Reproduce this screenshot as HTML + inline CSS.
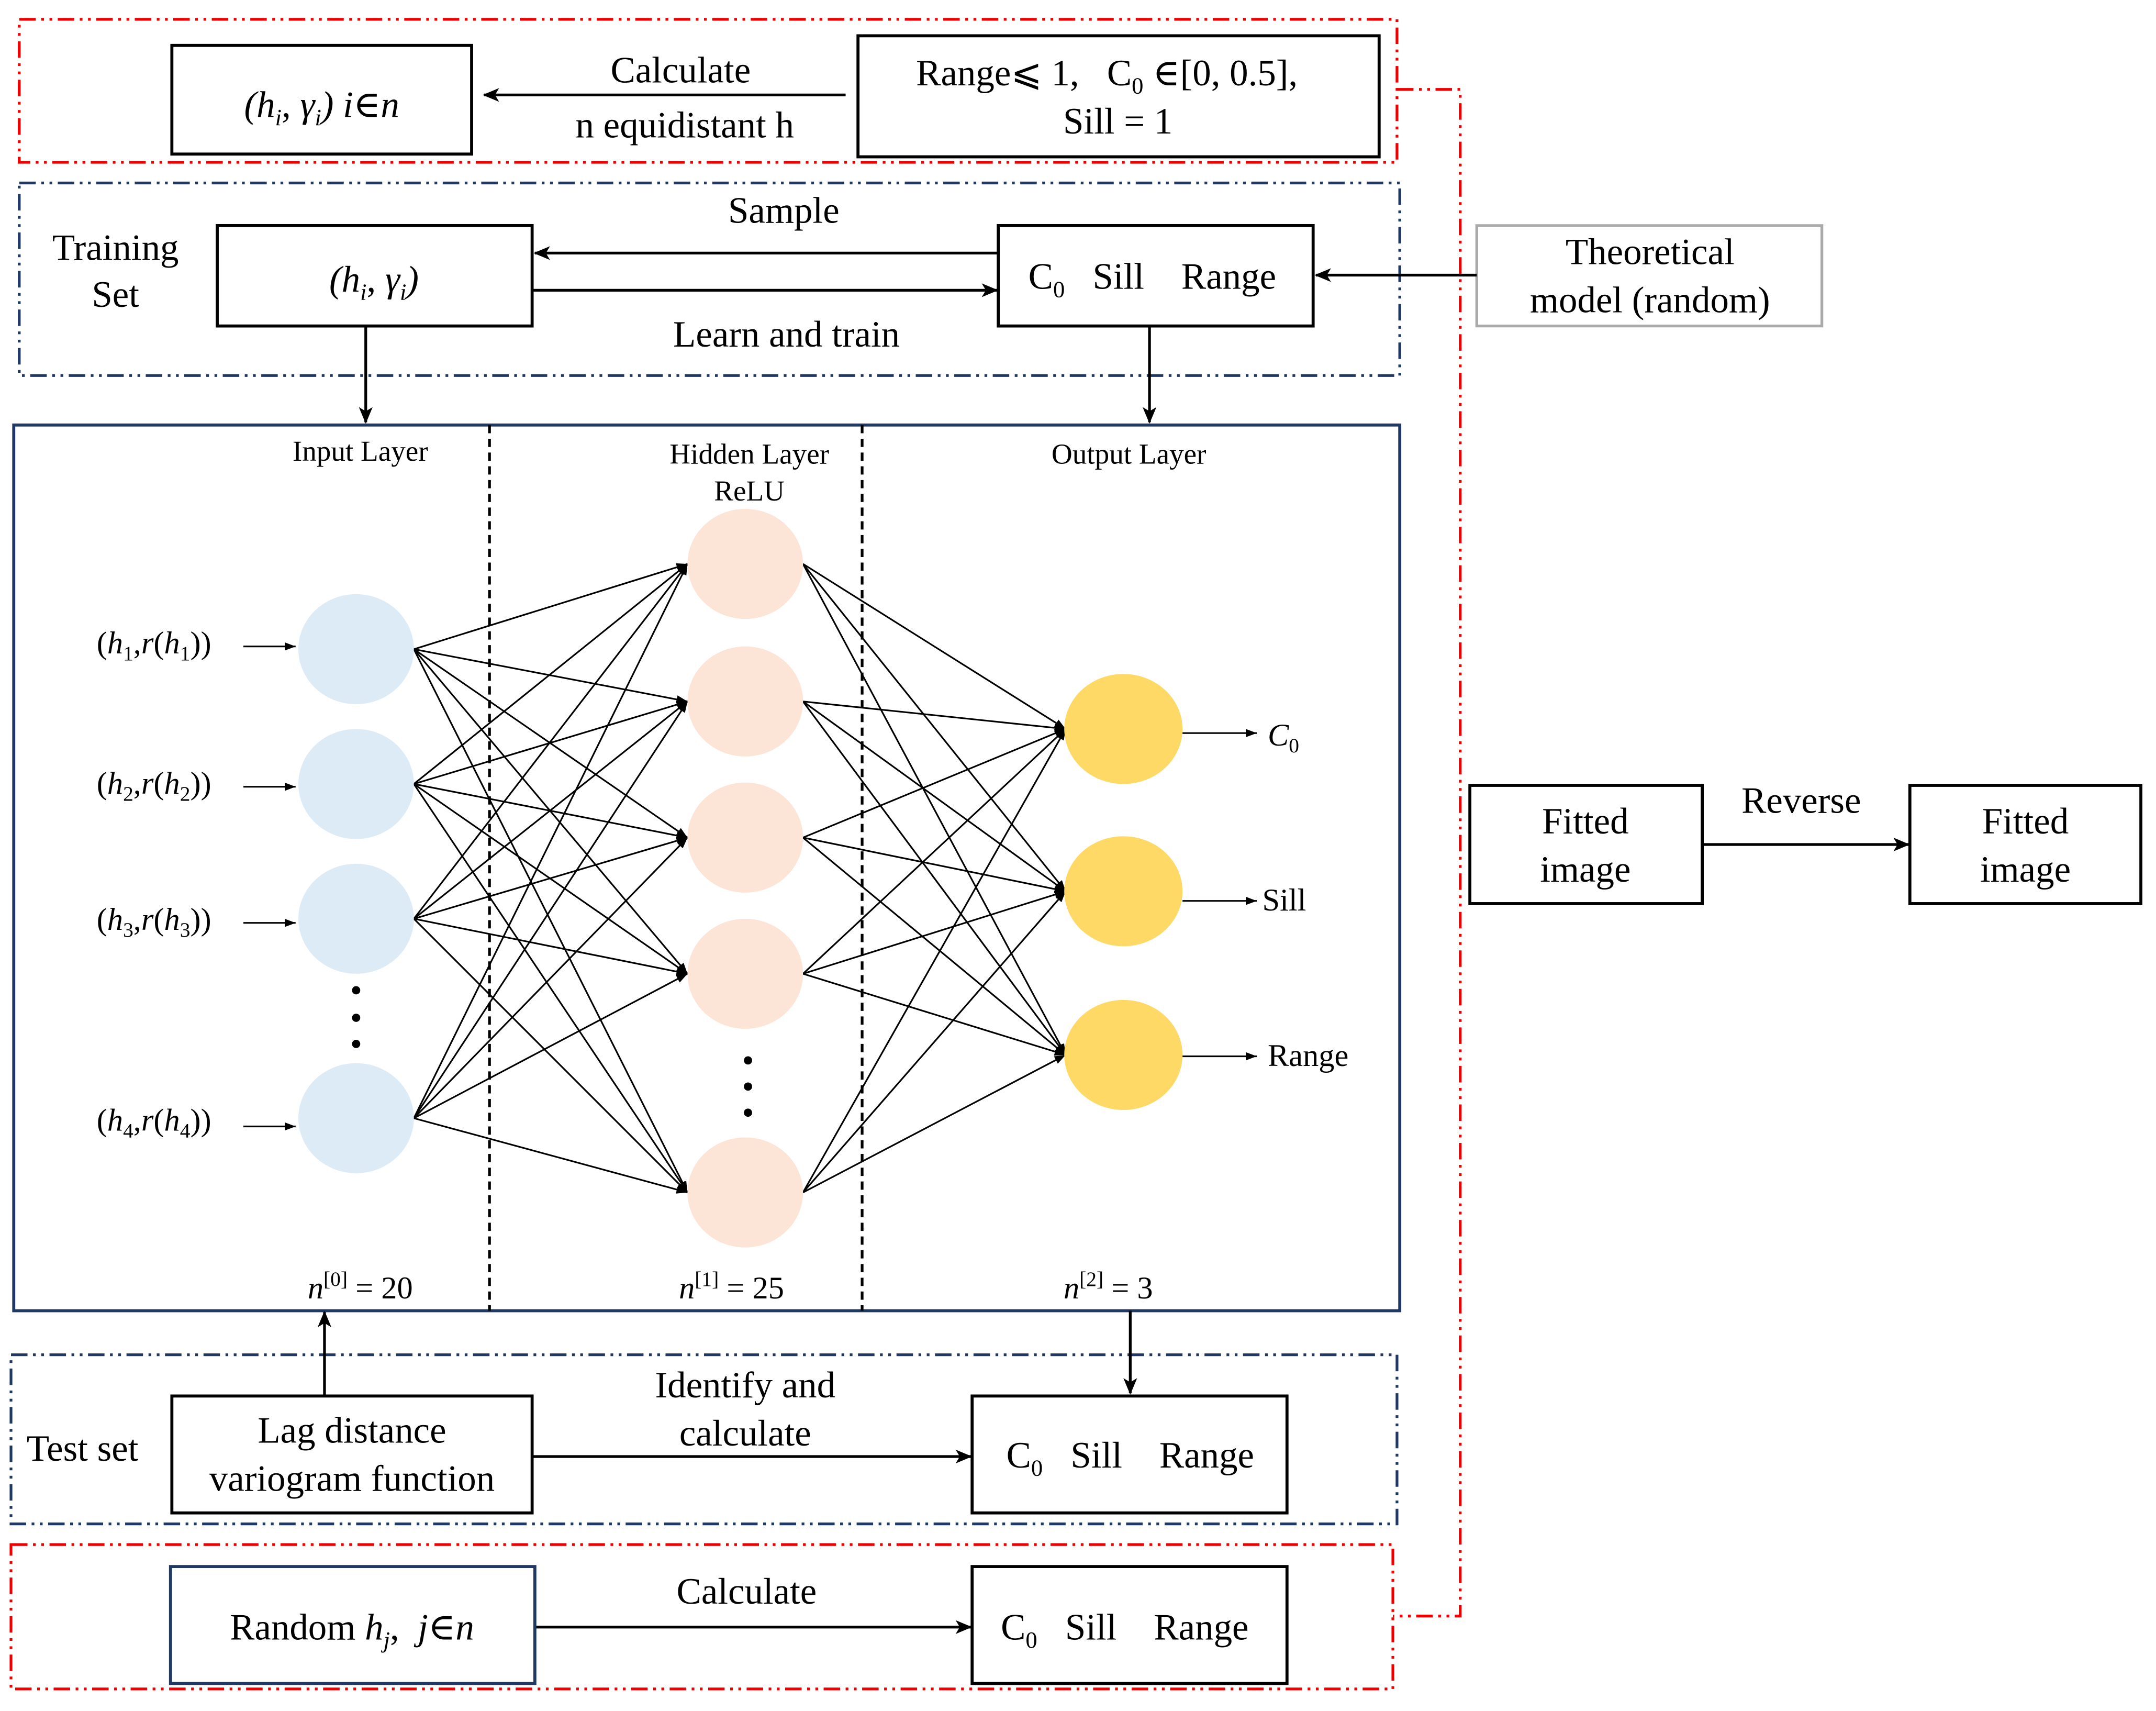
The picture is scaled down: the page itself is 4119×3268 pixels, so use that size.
<!DOCTYPE html>
<html><head><meta charset="utf-8"><style>
html,body{margin:0;padding:0;background:#fff;}
svg{display:block;}
text{font-family:"Liberation Serif","DejaVu Serif",serif;fill:#000;white-space:pre;}
</style></head><body>
<svg width="4119" height="3268" viewBox="0 0 1568 1244" xmlns="http://www.w3.org/2000/svg" xml:space="preserve">
<defs>
<marker id="a" markerWidth="12" markerHeight="10" refX="11" refY="5" orient="auto" markerUnits="userSpaceOnUse"><path d="M0,0 L12,5 L0,10 L3,5 z" fill="#000"/></marker>
<marker id="s" markerWidth="8" markerHeight="6" refX="8" refY="3" orient="auto" markerUnits="userSpaceOnUse"><path d="M0,0 L8,3 L0,6 z" fill="#000"/></marker>
</defs>
<rect width="1568" height="1244" fill="#fff"/>
<g fill="none" stroke-width="2" stroke-dasharray="12,4,2,4,2,4">
<rect x="14" y="14" width="1002" height="104" stroke="#e00"/>
<polyline points="1016,65 1062,65 1062,1175 1013,1175" stroke="#e00"/>
<rect x="8" y="1123" width="1005" height="105" stroke="#e00"/>
<rect x="14" y="133" width="1004" height="140" stroke="#1f3864"/>
<rect x="8" y="985" width="1008" height="123" stroke="#1f3864"/>
</g>
<g fill="none" stroke="#000" stroke-width="2.2">
<rect x="125" y="33" width="218" height="79"/>
<rect x="624" y="26" width="379" height="88"/>
<rect x="158" y="164" width="229" height="73"/>
<rect x="726" y="164" width="229" height="73"/>
<rect x="125" y="1015" width="262" height="85"/>
<rect x="707" y="1015" width="229" height="85"/>
<rect x="707" y="1139" width="229" height="85"/>
<rect x="1069" y="571" width="169" height="86"/>
<rect x="1389" y="571" width="168" height="86"/>
</g>
<rect x="1074" y="164" width="251" height="73" fill="none" stroke="#aaa" stroke-width="2"/>
<rect x="124" y="1139" width="265" height="85" fill="none" stroke="#1f3864" stroke-width="2.2"/>
<rect x="10" y="309" width="1008" height="644" fill="none" stroke="#1f3864" stroke-width="2.2"/>
<g stroke="#000" stroke-width="2" fill="none">
<line x1="615" y1="69" x2="352" y2="69" marker-end="url(#a)"/>
<line x1="726" y1="184" x2="389" y2="184" marker-end="url(#a)"/>
<line x1="388" y1="211" x2="725" y2="211" marker-end="url(#a)"/>
<line x1="1074" y1="200" x2="957" y2="200" marker-end="url(#a)"/>
<line x1="266" y1="237" x2="266" y2="307" marker-end="url(#a)"/>
<line x1="836" y1="237" x2="836" y2="307" marker-end="url(#a)"/>
<line x1="236" y1="1015" x2="236" y2="954" marker-end="url(#a)"/>
<line x1="822" y1="953" x2="822" y2="1013" marker-end="url(#a)"/>
<line x1="388" y1="1059" x2="706" y2="1059" marker-end="url(#a)"/>
<line x1="390" y1="1183" x2="706" y2="1183" marker-end="url(#a)"/>
<line x1="1238" y1="614" x2="1388" y2="614" marker-end="url(#a)"/>
</g>
<g stroke="#000" stroke-width="2" stroke-dasharray="6,4">
<line x1="356" y1="309" x2="356" y2="953"/>
<line x1="627" y1="309" x2="627" y2="953"/>
</g>
<g stroke="#000" stroke-width="1.2" fill="none">
<g marker-end="url(#s)">
<line x1="301" y1="472" x2="500" y2="410"/><line x1="301" y1="472" x2="500" y2="510"/><line x1="301" y1="472" x2="500" y2="609"/><line x1="301" y1="472" x2="500" y2="708"/><line x1="301" y1="472" x2="500" y2="867"/>
<line x1="301" y1="570" x2="500" y2="410"/><line x1="301" y1="570" x2="500" y2="510"/><line x1="301" y1="570" x2="500" y2="609"/><line x1="301" y1="570" x2="500" y2="708"/><line x1="301" y1="570" x2="500" y2="867"/>
<line x1="301" y1="668" x2="500" y2="410"/><line x1="301" y1="668" x2="500" y2="510"/><line x1="301" y1="668" x2="500" y2="609"/><line x1="301" y1="668" x2="500" y2="708"/><line x1="301" y1="668" x2="500" y2="867"/>
<line x1="301" y1="813" x2="500" y2="410"/><line x1="301" y1="813" x2="500" y2="510"/><line x1="301" y1="813" x2="500" y2="609"/><line x1="301" y1="813" x2="500" y2="708"/><line x1="301" y1="813" x2="500" y2="867"/>
<line x1="584" y1="410" x2="775" y2="530"/><line x1="584" y1="410" x2="775" y2="648"/><line x1="584" y1="410" x2="775" y2="767"/>
<line x1="584" y1="510" x2="775" y2="530"/><line x1="584" y1="510" x2="775" y2="648"/><line x1="584" y1="510" x2="775" y2="767"/>
<line x1="584" y1="609" x2="775" y2="530"/><line x1="584" y1="609" x2="775" y2="648"/><line x1="584" y1="609" x2="775" y2="767"/>
<line x1="584" y1="708" x2="775" y2="530"/><line x1="584" y1="708" x2="775" y2="648"/><line x1="584" y1="708" x2="775" y2="767"/>
<line x1="584" y1="867" x2="775" y2="530"/><line x1="584" y1="867" x2="775" y2="648"/><line x1="584" y1="867" x2="775" y2="767"/>
<line x1="177" y1="470" x2="215" y2="470"/><line x1="177" y1="572" x2="215" y2="572"/><line x1="177" y1="671" x2="215" y2="671"/><line x1="177" y1="819" x2="215" y2="819"/>
<line x1="860" y1="533" x2="914" y2="533"/><line x1="860" y1="655" x2="914" y2="655"/><line x1="860" y1="768" x2="914" y2="768"/>
</g>
</g>
<g fill="#ddebf7">
<ellipse cx="259" cy="472" rx="42" ry="40"/><ellipse cx="259" cy="570" rx="42" ry="40"/><ellipse cx="259" cy="668" rx="42" ry="40"/><ellipse cx="259" cy="813" rx="42" ry="40"/>
</g>
<g fill="#fce4d6">
<ellipse cx="542" cy="410" rx="42" ry="40"/><ellipse cx="542" cy="510" rx="42" ry="40"/><ellipse cx="542" cy="609" rx="42" ry="40"/><ellipse cx="542" cy="708" rx="42" ry="40"/><ellipse cx="542" cy="867" rx="42" ry="40"/>
</g>
<g fill="#ffd966">
<ellipse cx="817" cy="530" rx="43" ry="40"/><ellipse cx="817" cy="648" rx="43" ry="40"/><ellipse cx="817" cy="767" rx="43" ry="40"/>
</g>
<g fill="#000">
<circle cx="259" cy="720" r="3"/><circle cx="259" cy="740" r="3"/><circle cx="259" cy="759" r="3"/>
<circle cx="544" cy="771" r="3"/><circle cx="544" cy="790" r="3"/><circle cx="544" cy="809" r="3"/>
</g>
<g font-size="27" text-anchor="middle">
<text x="234" y="85"><tspan font-style="italic">(h</tspan><tspan font-size="17" dy="6" font-style="italic">i</tspan><tspan dy="-6">, </tspan><tspan font-style="italic">γ</tspan><tspan font-size="17" dy="6" font-style="italic">i</tspan><tspan dy="-6" font-style="italic">) i∈n</tspan></text>
<text x="495" y="60">Calculate</text>
<text x="498" y="100">n equidistant h</text>
<text x="805" y="62">Range⩽ 1,   C<tspan font-size="17" dy="6">0</tspan><tspan dy="-6"> ∈[0, 0.5],</tspan></text>
<text x="813" y="97">Sill = 1</text>
<text x="570" y="162">Sample</text>
<text x="572" y="252">Learn and train</text>
<text x="84" y="189">Training</text>
<text x="84" y="223">Set</text>
<text x="272" y="212"><tspan font-style="italic">(h</tspan><tspan font-size="17" dy="6" font-style="italic">i</tspan><tspan dy="-6">, </tspan><tspan font-style="italic">γ</tspan><tspan font-size="17" dy="6" font-style="italic">i</tspan><tspan dy="-6" font-style="italic">)</tspan></text>
<text x="838" y="210">C<tspan font-size="17" dy="6">0</tspan><tspan dy="-6">   Sill    Range</tspan></text>
<text x="1200" y="192">Theoretical</text>
<text x="1200" y="227">model (random)</text>
<text x="1153" y="606">Fitted</text>
<text x="1153" y="641">image</text>
<text x="1473" y="606">Fitted</text>
<text x="1473" y="641">image</text>
<text x="1310" y="591">Reverse</text>
<text x="60" y="1062">Test set</text>
<text x="256" y="1049">Lag distance</text>
<text x="256" y="1084">variogram function</text>
<text x="542" y="1016">Identify and</text>
<text x="542" y="1051">calculate</text>
<text x="822" y="1067">C<tspan font-size="17" dy="6">0</tspan><tspan dy="-6">   Sill    Range</tspan></text>
<text x="256" y="1192">Random <tspan font-style="italic">h</tspan><tspan font-size="17" dy="6" font-style="italic">j</tspan><tspan dy="-6">,  </tspan><tspan font-style="italic">j∈n</tspan></text>
<text x="543" y="1166">Calculate</text>
<text x="818" y="1192">C<tspan font-size="17" dy="6">0</tspan><tspan dy="-6">   Sill    Range</tspan></text>
</g>
<g font-size="21" text-anchor="middle">
<text x="262" y="335">Input Layer</text>
<text x="545" y="337">Hidden Layer</text>
<text x="545" y="364">ReLU</text>
<text x="821" y="337">Output Layer</text>
</g>
<g font-size="23" text-anchor="middle">
<text x="112" y="475">(<tspan font-style="italic">h</tspan><tspan font-size="15" dy="5">1</tspan><tspan dy="-5">,</tspan><tspan font-style="italic">r</tspan>(<tspan font-style="italic">h</tspan><tspan font-size="15" dy="5">1</tspan><tspan dy="-5">))</tspan></text>
<text x="112" y="577">(<tspan font-style="italic">h</tspan><tspan font-size="15" dy="5">2</tspan><tspan dy="-5">,</tspan><tspan font-style="italic">r</tspan>(<tspan font-style="italic">h</tspan><tspan font-size="15" dy="5">2</tspan><tspan dy="-5">))</tspan></text>
<text x="112" y="676">(<tspan font-style="italic">h</tspan><tspan font-size="15" dy="5">3</tspan><tspan dy="-5">,</tspan><tspan font-style="italic">r</tspan>(<tspan font-style="italic">h</tspan><tspan font-size="15" dy="5">3</tspan><tspan dy="-5">))</tspan></text>
<text x="112" y="822">(<tspan font-style="italic">h</tspan><tspan font-size="15" dy="5">4</tspan><tspan dy="-5">,</tspan><tspan font-style="italic">r</tspan>(<tspan font-style="italic">h</tspan><tspan font-size="15" dy="5">4</tspan><tspan dy="-5">))</tspan></text>
<text x="262" y="944"><tspan font-style="italic">n</tspan><tspan font-size="15" dy="-9">[0]</tspan><tspan dy="9"> = 20</tspan></text>
<text x="532" y="944"><tspan font-style="italic">n</tspan><tspan font-size="15" dy="-9">[1]</tspan><tspan dy="9"> = 25</tspan></text>
<text x="806" y="944"><tspan font-style="italic">n</tspan><tspan font-size="15" dy="-9">[2]</tspan><tspan dy="9"> = 3</tspan></text>
</g>
<g font-size="23">
<text x="922" y="542" font-style="italic">C<tspan font-size="15" dy="5" font-style="normal">0</tspan></text>
<text x="918" y="662">Sill</text>
<text x="922" y="775">Range</text>
</g>
</svg>
</body></html>
